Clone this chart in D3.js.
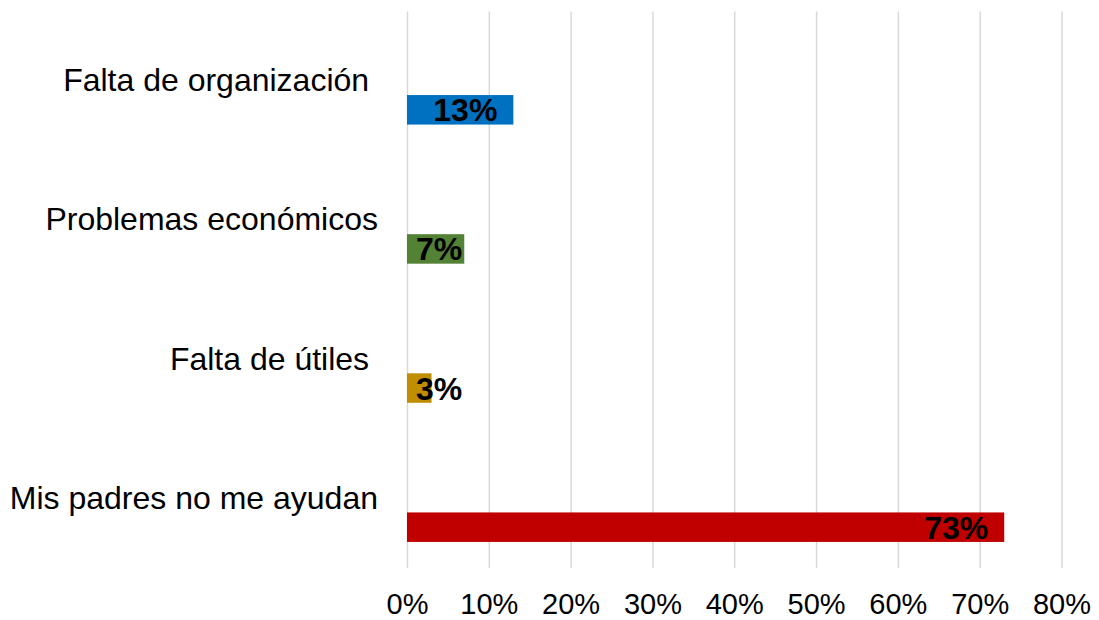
<!DOCTYPE html>
<html>
<head>
<meta charset="utf-8">
<script src="https://cdn.jsdelivr.net/npm/d3@7"></script>
<style>
  html, body { margin: 0; padding: 0; background: #fff; }
  svg { display: block; font-family: Arial, "Liberation Sans", sans-serif; }
  .cat text { white-space: pre; }
</style>
</head>
<body>
<svg id="chart" width="1099" height="620"></svg>
<script>
// Categories (top to bottom), their shares and bar colours
const categories = ["Falta de organización ", "Problemas económicos", "Falta de útiles ", "Mis padres no me ayudan"];
const values = [0.13, 0.07, 0.03, 0.73];
const colors = ["#0070C0", "#548235", "#BF8F00", "#C00000"];
const tickValues = [0, 0.1, 0.2, 0.3, 0.4, 0.5, 0.6, 0.7, 0.8];

const svg = d3.select("#chart");
const plot = { left: 407, right: 1061.5, top: 11.5, bottom: 568 };

const x = d3.scaleLinear().domain([0, 0.8]).range([plot.left, plot.right]);
const y = d3.scaleBand().domain(categories).range([plot.top, plot.bottom]);

// Vertical gridlines and percentage ticks
const xAxis = d3.axisBottom(x)
  .tickValues(tickValues)
  .tickFormat(d3.format(".0%"))
  .tickSizeInner(-(plot.bottom - plot.top))
  .tickSizeOuter(0)
  .tickPadding(25);

const gx = svg.append("g")
  .attr("transform", `translate(0,${plot.bottom})`)
  .call(xAxis);
gx.select(".domain").remove();
gx.selectAll(".tick line").attr("stroke", "#D9D9D9").attr("stroke-width", 1.5);
gx.selectAll(".tick text")
  .attr("fill", "#000")
  .style("font-size", "29px")
  .style("font-family", "Arial, 'Liberation Sans', sans-serif");

// Category labels, right-aligned, centred on each band
const yAxis = d3.axisLeft(y).tickSize(0).tickPadding(0);
const gy = svg.append("g")
  .attr("class", "cat")
  .attr("transform", "translate(378,0)")
  .call(yAxis);
gy.select(".domain").remove();
gy.selectAll(".tick text")
  .attr("fill", "#000")
  .style("font-size", "32px")
  .style("font-family", "Arial, 'Liberation Sans', sans-serif");

// Bars sit just below the middle of each band
const barH = 29.5;
const barOffset = 14;
const rows = categories.map((c, i) => ({ cat: c, value: values[i], color: colors[i] }));

svg.append("g").selectAll("rect")
  .data(rows)
  .join("rect")
  .attr("x", x(0))
  .attr("y", d => y(d.cat) + y.bandwidth() / 2 + barOffset)
  .attr("width", d => x(d.value) - x(0))
  .attr("height", barH)
  .attr("fill", d => d.color);

// Value labels near the inside end, never starting left of the bar origin
const fmt = d3.format(".0%");
svg.append("g").selectAll("text")
  .data(rows)
  .join("text")
  .text(d => fmt(d.value))
  .attr("y", d => y(d.cat) + y.bandwidth() / 2 + barOffset + barH / 2)
  .attr("dy", "0.36em")
  .attr("fill", "#000")
  .style("font-size", "32px")
  .style("font-weight", "bold")
  .attr("x", function (d) {
    const w = this.getComputedTextLength();
    return Math.max(x(0) + 9, x(d.value) - 16 - w);
  });
</script>
</body>
</html>
